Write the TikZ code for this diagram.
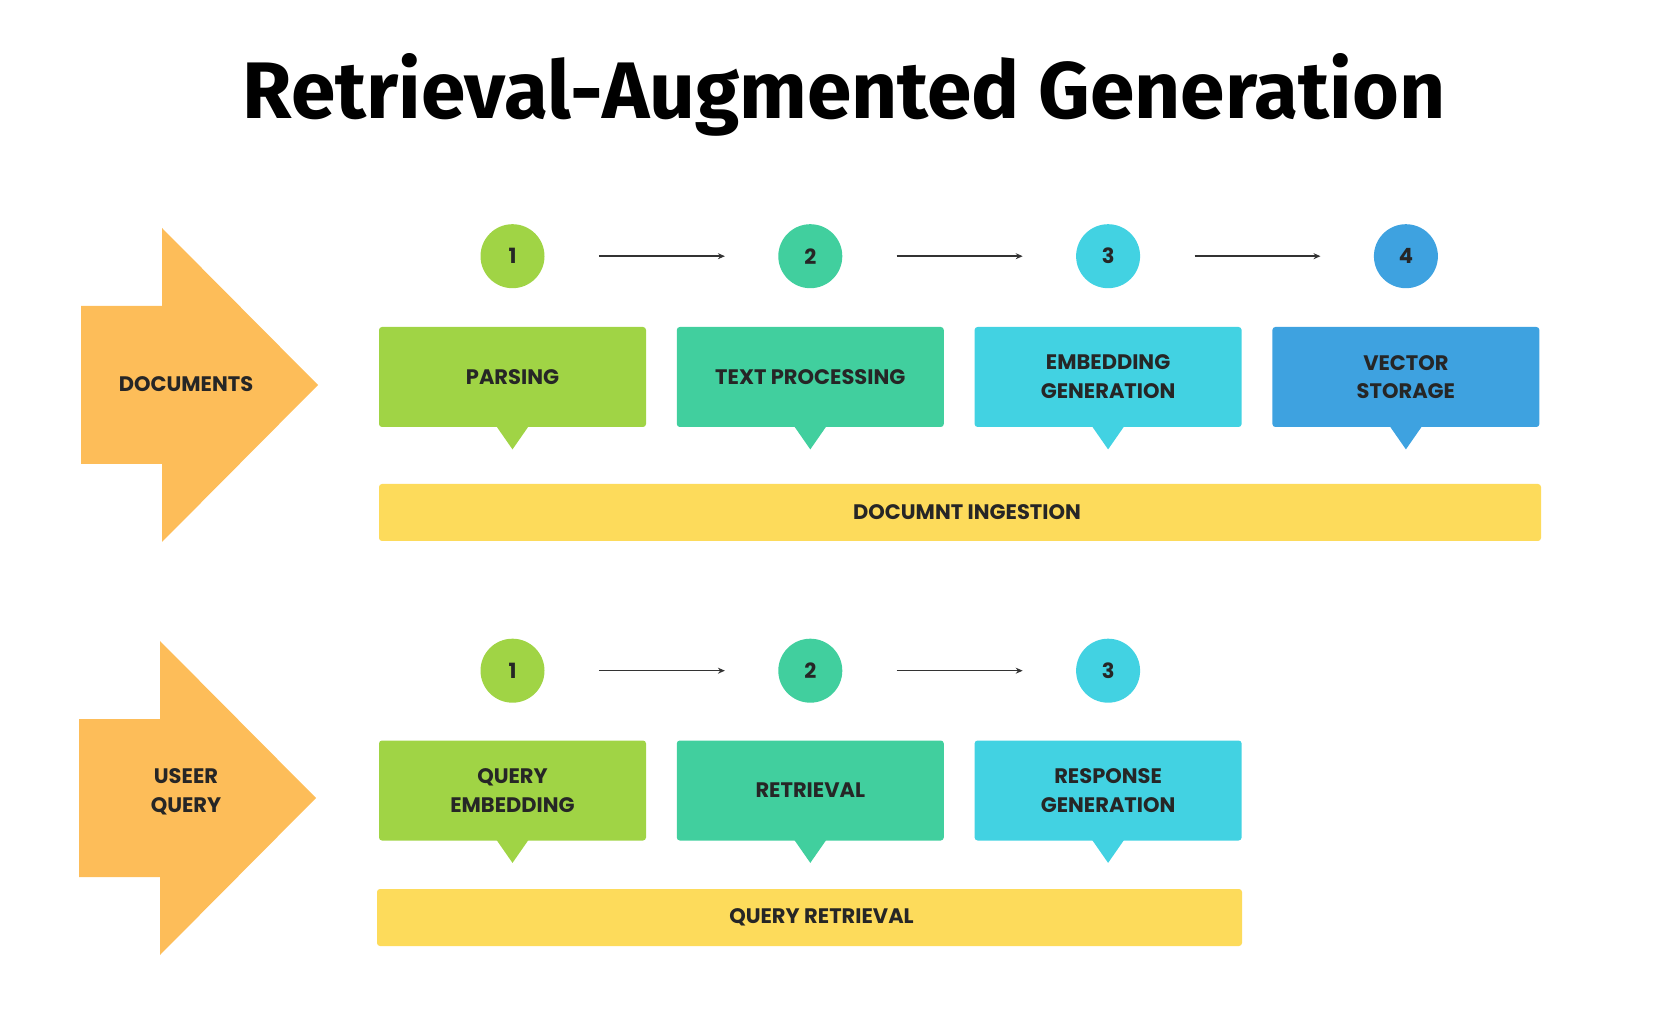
\documentclass[tikz,border=0pt]{standalone}
\usepackage{fontspec}
\setmainfont{Poppins}
\newfontfamily\titlefont{Fira Sans}
\usetikzlibrary{positioning,arrows.meta}

\definecolor{stepgreen}{HTML}{A0D445}
\definecolor{stepteal}{HTML}{41CF9E}
\definecolor{stepcyan}{HTML}{42D2E2}
\definecolor{stepblue}{HTML}{3EA2E0}
\definecolor{inorange}{HTML}{FDBD59}
\definecolor{stageyellow}{HTML}{FDDB5B}

\tikzset{
    stepbox/.style={
        fill=#1, rounded corners=1.5pt, minimum width=133.5pt, minimum height=50pt,
        align=center, inner sep=0pt, text=black!85,
        font=\bfseries\fontsize{10.5}{14.4}\selectfont},
    stepnum/.style={
        circle, fill=#1, minimum size=32pt, inner sep=0pt, text=black!85,
        font=\bfseries\fontsize{10.5}{12}\selectfont},
    stepflow/.style={
        -{Stealth[length=3.5pt,width=3pt]}, line width=0.7pt, black!80,
        shorten <=27pt, shorten >=26.5pt},
    stagebar/.style={
        fill=stageyellow, rounded corners=1.5pt, minimum height=28.5pt, inner sep=0pt,
        text=black!85, font=\bfseries\fontsize{10.5}{12}\selectfont},
    arrowlabel/.style={
        align=center, text=black!85, font=\bfseries\fontsize{10.5}{14.4}\selectfont},
    inarrow/.pic={
        \fill[inorange] (0,-79) -- (81,-79) -- (81,-157) -- (237,0)
            -- (81,157) -- (81,79) -- (0,79) -- cycle;
    }
}
% speech-bubble tip under a step box
\newcommand{\boxtip}[2]{\fill[#2] ([xshift=-8pt,yshift=0.5pt]#1.south) -- ([xshift=8pt,yshift=0.5pt]#1.south) -- ([yshift=-11pt]#1.south) -- cycle;}

\begin{document}
\begin{tikzpicture}[x=0.5pt, y=-0.5pt]
    \useasboundingbox (0,0) rectangle (1672,1010);

    \node[anchor=base, font=\titlefont\bfseries\fontsize{40.1}{46}\selectfont] (title) at (844,119) {Retrieval-Augmented Generation};

    % document ingestion
    \pic at (81,385) {inarrow};
    \node[arrowlabel] (docs) at (186,384) {DOCUMENTS};

    \node[stepbox=stepgreen] (parse) at (512.5,377) {PARSING};
    \node[stepbox=stepteal, right=15pt of parse] (textproc) {TEXT PROCESSING};
    \node[stepbox=stepcyan, right=15pt of textproc] (embedgen) {EMBEDDING\\GENERATION};
    \node[stepbox=stepblue, right=15pt of embedgen] (vecstore) {VECTOR\\STORAGE};

    \node[stepnum=stepgreen, above=19pt of parse] (d1) {1};
    \node[stepnum=stepteal, above=19pt of textproc] (d2) {2};
    \node[stepnum=stepcyan, above=19pt of embedgen] (d3) {3};
    \node[stepnum=stepblue, above=19pt of vecstore] (d4) {4};

    \node[stagebar, minimum width=581pt] (ingest) at (960,512.5) {\hspace{7pt}DOCUMNT INGESTION};

    % user query
    \pic at (79,798) {inarrow};
    \node[arrowlabel] (query) at (186,792) {USEER\\QUERY};

    \node[stepbox=stepgreen] (qembed) at (512.5,790.5) {QUERY\\EMBEDDING};
    \node[stepbox=stepteal, right=15pt of qembed] (retr) {RETRIEVAL};
    \node[stepbox=stepcyan, right=15pt of retr] (respgen) {RESPONSE\\GENERATION};

    \node[stepnum=stepgreen, above=18.5pt of qembed] (q1) {1};
    \node[stepnum=stepteal, above=18.5pt of retr] (q2) {2};
    \node[stepnum=stepcyan, above=18.5pt of respgen] (q3) {3};

    \node[stagebar, minimum width=432.5pt] (qretr) at (809.5,917.5) {\hspace{12pt}QUERY RETRIEVAL};

    \foreach \b/\c in {parse/stepgreen, textproc/stepteal, embedgen/stepcyan, vecstore/stepblue,
                       qembed/stepgreen, retr/stepteal, respgen/stepcyan}
        {\boxtip{\b}{\c}}

    \draw[stepflow] (d1) -- (d2);
    \draw[stepflow] (d2) -- (d3);
    \draw[stepflow] (d3) -- (d4);
    \draw[stepflow] (q1) -- (q2);
    \draw[stepflow] (q2) -- (q3);
\end{tikzpicture}
\end{document}
